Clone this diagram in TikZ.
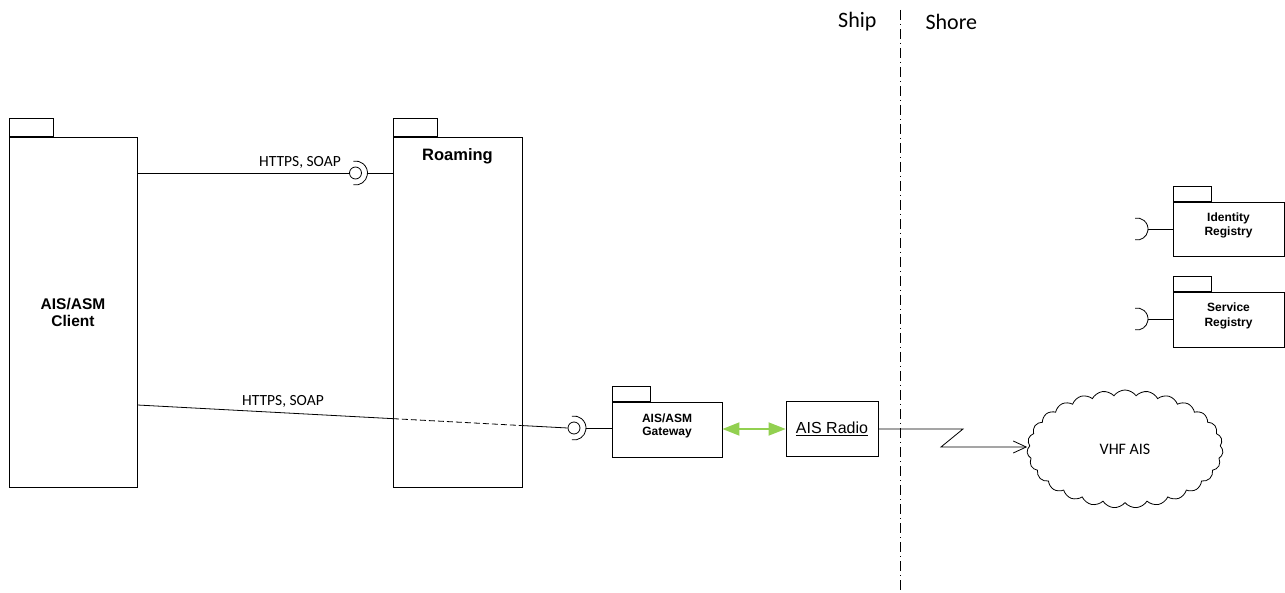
\documentclass[tikz,border=0pt]{standalone}
\usepackage{fontspec}
\setmainfont{Carlito}
\newfontfamily\arialfont{Liberation Sans}
\usetikzlibrary{arrows.meta,positioning,calc,shapes.symbols}

\definecolor{linkgreen}{RGB}{146,208,80}

\begin{document}
\begin{tikzpicture}[x=1pt, y=-1pt,
  pkg/.style={
    rectangle, draw=black, line width=0.8pt, fill=white,
    inner sep=0pt, align=center, font=\arialfont\bfseries
  },
  tab/.style={
    rectangle, draw=black, line width=0.8pt, fill=white,
    inner sep=0pt, anchor=south west,
    minimum width=#1, minimum height=15pt
  },
  ball/.style={circle, draw=black, line width=0.8pt, minimum size=12pt, inner sep=0pt},
  wire/.style={draw=black, line width=0.8pt},
  proto/.style={font=\fontsize{15.5}{18}\selectfont, inner sep=1pt},
  greenarr/.style={{Triangle[length=17pt,width=13pt]}-{Triangle[length=17pt,width=13pt]},
    draw=linkgreen, fill=linkgreen, line width=1.8pt},
  barb/.style={-{Straight Barb[length=13pt,width=12pt]}, line width=0.8pt},
  divider/.style={line width=0.8pt, dash pattern=on 10pt off 4pt on 1pt off 4pt},
]
\useasboundingbox (0,0) rectangle (1285,593);

%% -- Ship / Shore divider -------------------------------------------
\coordinate (divtop) at (900,10);
\coordinate (divbot) at (900,593);
\draw[divider] (divtop) -- (divbot);
\node[font=\fontsize{22}{26}\selectfont, anchor=east] (ship)  at (880,22) {Ship};
\node[font=\fontsize{22}{26}\selectfont, anchor=west] (shore) at (922,22) {Shore};

%% -- Packages --------------------------------------------------------
\node[pkg, minimum width=128pt, minimum height=350pt,
      font=\arialfont\bfseries\fontsize{15.5}{17}\selectfont] (client) at (73,312) {AIS/ASM\\Client};
\node[tab=44pt, minimum height=18pt] (clienttab) at (client.north west) {};

\node[pkg, minimum width=129pt, minimum height=350pt] (roaming) at (457.5,312) {};
\node[tab=44pt, minimum height=18pt] (roamingtab) at (roaming.north west) {};
\node[font=\arialfont\bfseries\fontsize{16.5}{19}\selectfont, below=8pt of roaming.north] (roaminglbl) {Roaming};

\node[pkg, minimum width=110pt, minimum height=55pt, text depth=10pt,
      font=\arialfont\bfseries\fontsize{12}{13.5}\selectfont] (gateway) at (667,429.5) {AIS/ASM\\Gateway};
\node[tab=38pt] (gatewaytab) at (gateway.north west) {};

\node[pkg, minimum width=92pt, minimum height=55pt,
      font=\arialfont\fontsize{16}{19}\selectfont] (radio) at (832,428.5) {\underline{AIS Radio}};

\node[pkg, minimum width=111pt, minimum height=54pt, text depth=10pt,
      font=\arialfont\bfseries\fontsize{12}{14.5}\selectfont] (idreg) at (1228.5,229) {Identity\\Registry};
\node[tab=38pt] (idregtab) at (idreg.north west) {};

\node[pkg, minimum width=111pt, minimum height=55pt, text depth=10pt,
      font=\arialfont\bfseries\fontsize{12}{14.5}\selectfont] (svcreg) at (1228.5,319.5) {Service\\Registry};
\node[tab=38pt] (svcregtab) at (svcreg.north west) {};

\node[cloud, draw=black, line width=0.8pt, cloud puffs=27, cloud puff arc=110,
      cloud ignores aspect, minimum width=196pt, minimum height=118pt,
      font=\fontsize{16}{19}\selectfont] (vhf) at (1125,449) {VHF AIS};

%% -- Upper link: client -> roaming ------------------------------------
\node[ball] (topball) at (355.5,173) {};
\draw[wire] ([shift={(-100:12pt)}]topball.center) arc[start angle=-100, end angle=100, radius=12pt];
\draw[wire] (client.east |- topball) -- (topball.west);
\draw[wire] ([xshift=12pt]topball.center) -- (roaming.west |- topball);
\node[proto] (toplbl) at (300,162) {HTTPS, SOAP};

%% -- Lower link: client -> gateway, through roaming -------------------
\node[ball] (gwball) at (574,428) {};
\draw[wire] ([shift={(-100:12pt)}]gwball.center) arc[start angle=-100, end angle=100, radius=12pt];
\coordinate (clout) at (client.east |- 0,405);
\coordinate (rmin)  at ($(clout)!0.5940!(gwball.west)$);
\coordinate (rmout) at ($(clout)!0.8933!(gwball.west)$);
\draw[wire] (clout) -- (rmin);
\draw[wire, dash pattern=on 6pt off 3pt] (rmin) -- (rmout);
\draw[wire] (rmout) -- (gwball.west);
\draw[wire] ([xshift=12pt]gwball.center) -- (gateway.west |- gwball);
\node[proto, fill=white] (botlbl) at (283,401) {HTTPS, SOAP};

%% -- Gateway <-> radio, radio -> VHF -----------------------------------
\draw[greenarr] (gateway.east |- 0,429) -- (radio.west |- 0,429);
\coordinate (zigA) at (963,429);
\coordinate (zigB) at (941,447);
\draw[barb] (radio.east |- 0,429) -- (zigA) -- (zigB) -- (zigB -| vhf.west);

%% -- Registry sockets --------------------------------------------------
\coordinate (idsock) at (1137,229);
\coordinate (svcsock) at (1137,319);
\draw[wire] ([shift={(-100:11pt)}]idsock) arc[start angle=-100, end angle=100, radius=11pt];
\draw[wire] ([xshift=11pt]idsock) -- (idreg.west |- idsock);
\draw[wire] ([shift={(-100:11pt)}]svcsock) arc[start angle=-100, end angle=100, radius=11pt];
\draw[wire] ([xshift=11pt]svcsock) -- (svcreg.west |- svcsock);

\end{tikzpicture}
\end{document}
